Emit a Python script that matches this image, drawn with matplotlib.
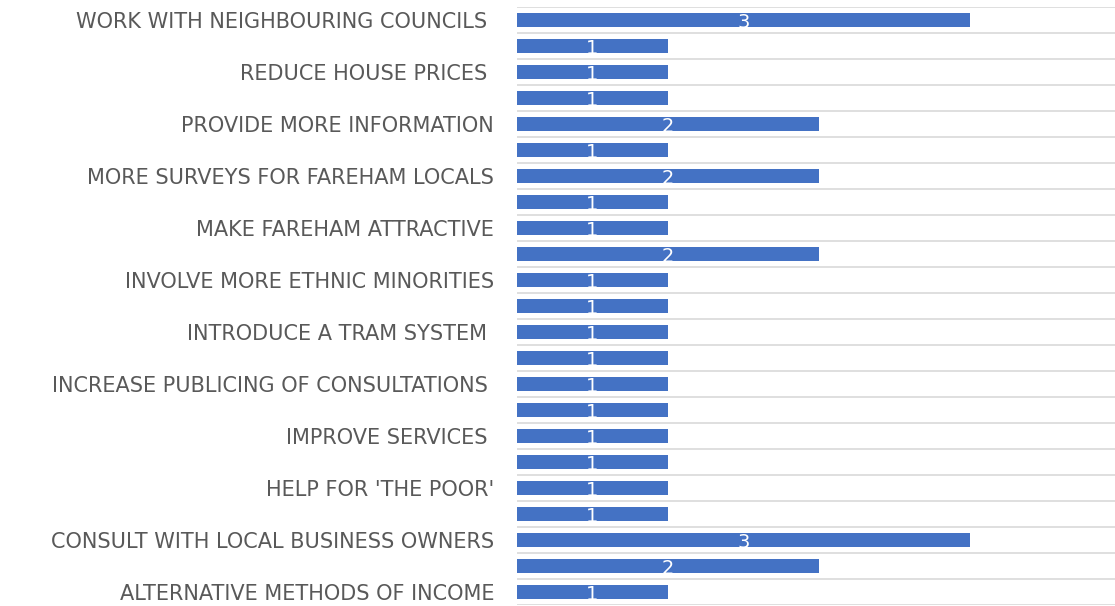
import numpy as np
import matplotlib
matplotlib.use("Agg")
import matplotlib.pyplot as plt

# values top -> bottom, 23 bars (only every other category is labelled)
values = [3, 1, 1, 1, 2, 1, 2, 1, 1, 2, 1, 1, 1, 1, 1, 1, 1, 1, 1, 1, 3, 2, 1]

labels = ["WORK WITH NEIGHBOURING COUNCILS ",
          "REDUCE HOUSE PRICES ",
          "PROVIDE MORE INFORMATION",
          "MORE SURVEYS FOR FAREHAM LOCALS",
          "MAKE FAREHAM ATTRACTIVE",
          "INVOLVE MORE ETHNIC MINORITIES",
          "INTRODUCE A TRAM SYSTEM ",
          "INCREASE PUBLICING OF CONSULTATIONS ",
          "IMPROVE SERVICES ",
          "HELP FOR 'THE POOR'",
          "CONSULT WITH LOCAL BUSINESS OWNERS",
          "ALTERNATIVE METHODS OF INCOME"]

bar_color = "#4472C4"
grid_color = "#D9D9D9"
text_color = "#595959"

fig = plt.figure(figsize=(11.15, 6.06), dpi=100)
ax = fig.add_axes([517 / 1115, 1 / 606, 1 - 517 / 1115, 598 / 606])

y = np.arange(len(values))
ax.barh(y, values, height=0.55, color=bar_color, zorder=2)

ax.set_ylim(len(values) - 0.5, -0.5)
ax.set_xlim(0, 3.96)

ax.set_yticks(y[::2])
ax.set_yticklabels(labels, fontsize=15, color=text_color, family="DejaVu Sans")
ax.set_yticks(np.arange(len(values) + 1) - 0.5, minor=True)
ax.tick_params(axis="y", which="both", length=0, pad=16.5)
ax.grid(axis="y", which="minor", color=grid_color, linewidth=1.2, zorder=1)
ax.set_xticks([])

for s in ax.spines.values():
    s.set_visible(False)

for i, v in enumerate(values):
    ax.text(v / 2, i + 0.08, str(v), ha="center", va="center",
            color="white", fontsize=14, zorder=3)

fig.savefig("out.png", dpi=100)
